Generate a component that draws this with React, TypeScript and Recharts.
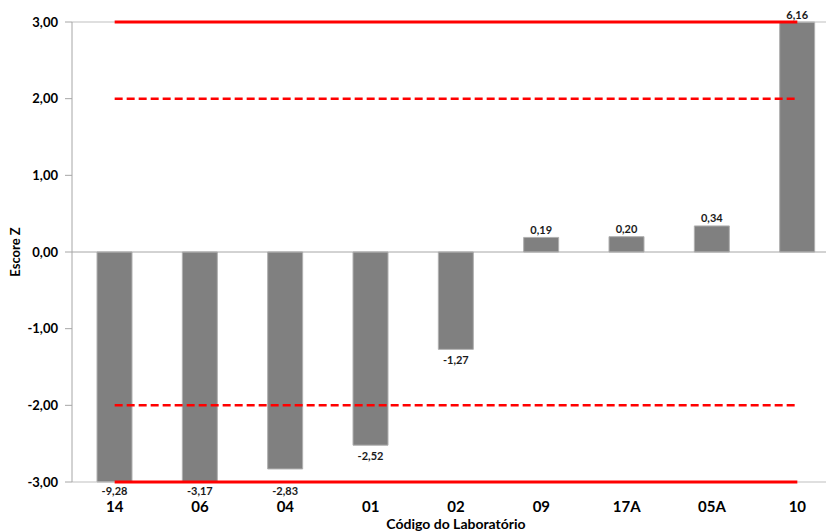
import {
  Bar,
  ComposedChart,
  LabelList,
  Line,
  ReferenceLine,
  XAxis,
  YAxis,
} from 'recharts';

const labs = ['14', '06', '04', '01', '02', '09', '17A', '05A', '10'];
const zScores = [-9.28, -3.17, -2.83, -2.52, -1.27, 0.19, 0.2, 0.34, 6.16];
const yTicks = [-3, -2, -1, 0, 1, 2, 3];
const actionLimit = 3;
const warningLimit = 2;

const FONT = 'Lato, "Open Sans", sans-serif';

const fmt = (v: number) => v.toFixed(2).replace('.', ',');

// bars are cut at the axis limits, labels keep the real score
const data = labs.map((code, i) => ({
  code,
  z: zScores[i],
  shown: Math.max(-actionLimit, Math.min(actionLimit, zScores[i])),
  upper: actionLimit,
  lower: -actionLimit,
  warnUp: warningLimit,
  warnLow: -warningLimit,
}));

function ValueLabel(props: any) {
  const { x, y, width, height, value, index } = props;
  const top = Math.min(y, y + height);
  const bottom = Math.max(y, y + height);
  const cx = x + width / 2;
  let ty = top - 8;
  if (value < 0) {
    // keep the label off the lower limit line, like Excel does
    const pxPerUnit = (bottom - top) / Math.abs(data[index].shown);
    const limitPx = top + actionLimit * pxPerUnit;
    ty = bottom + 10;
    if (ty > limitPx - 6) ty = limitPx + 8;
  }
  return (
    <text
      x={cx}
      y={ty}
      textAnchor="middle"
      dominantBaseline="central"
      fontFamily={FONT}
      fontWeight={700}
      fontSize={11}
      fill="#1a1a1a"
    >
      {fmt(value)}
    </text>
  );
}

export default function App() {
  return (
    <div
      style={{
        position: 'fixed',
        left: 0,
        top: 0,
        width: 826,
        height: 532,
        overflow: 'hidden',
        background: '#fff',
      }}
    >
      <ComposedChart
        width={842}
        height={532}
        data={data}
        margin={{ top: 22, right: 2, left: 12, bottom: 0 }}
      >
        <XAxis
          dataKey="code"
          height={50}
          axisLine={false}
          tickLine={false}
          tickSize={0}
          tickMargin={19}
          tick={{ fontFamily: FONT, fontWeight: 700, fontSize: 15, fill: '#000' }}
          label={{
            value: 'Código do Laboratório',
            position: 'insideBottom',
            offset: 3,
            style: { fontFamily: FONT, fontWeight: 700, fontSize: 14, fill: '#000' },
          }}
        />
        <YAxis
          width={60}
          domain={[-actionLimit, actionLimit]}
          ticks={yTicks}
          tickFormatter={fmt}
          axisLine={{ stroke: '#a6a6a6' }}
          tickLine={{ stroke: '#a6a6a6' }}
          tickSize={7}
          tickMargin={7}
          tick={{ fontFamily: FONT, fontWeight: 700, fontSize: 13, fill: '#000' }}
          label={({ viewBox }: any) => {
            const lx = viewBox.x + 3;
            const ly = viewBox.y + viewBox.height / 2;
            return (
              <text
                x={lx}
                y={ly}
                transform={`rotate(-90, ${lx}, ${ly})`}
                textAnchor="middle"
                dominantBaseline="central"
                fontFamily={FONT}
                fontWeight={700}
                fontSize={13}
                fill="#000"
              >
                Escore Z
              </text>
            );
          }}
        />
        <ReferenceLine y={actionLimit} stroke="#bfbfbf" />
        <ReferenceLine y={-actionLimit} stroke="#bfbfbf" />
        <ReferenceLine y={0} stroke="#a6a6a6" />
        <Bar
          dataKey="shown"
          fill="#808080"
          stroke="#b0b0b0"
          barSize={35}
          isAnimationActive={false}
        >
          <LabelList dataKey="z" content={ValueLabel} />
        </Bar>
        <Line
          dataKey="upper"
          stroke="#ff0000"
          strokeWidth={3}
          dot={false}
          activeDot={false}
          isAnimationActive={false}
        />
        <Line
          dataKey="lower"
          stroke="#ff0000"
          strokeWidth={3}
          dot={false}
          activeDot={false}
          isAnimationActive={false}
        />
        <Line
          dataKey="warnUp"
          stroke="#ff0000"
          strokeWidth={2.5}
          strokeDasharray="8 4"
          dot={false}
          activeDot={false}
          isAnimationActive={false}
        />
        <Line
          dataKey="warnLow"
          stroke="#ff0000"
          strokeWidth={2.5}
          strokeDasharray="8 4"
          dot={false}
          activeDot={false}
          isAnimationActive={false}
        />
      </ComposedChart>
    </div>
  );
}
